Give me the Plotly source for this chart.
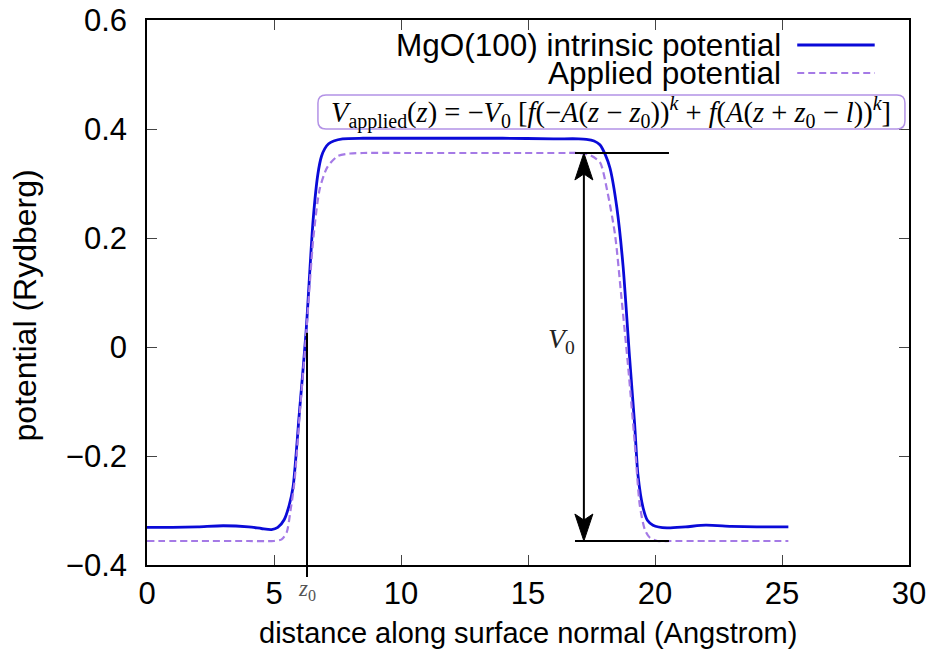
import plotly.graph_objects as go

# ---- data ----
z_mgo = [0.0, 1.0, 2.0, 3.0, 4.0, 4.5, 4.9, 5.15, 5.4, 5.6, 5.75, 6.0, 6.26, 6.54, 6.73, 6.87, 7.0, 7.15,
         7.35, 7.7, 8.5, 10.0, 12.0, 14.0, 16.0, 17.0, 17.3, 17.6, 17.83, 18.05, 18.23, 18.5, 18.74, 19.0,
         19.2, 19.33, 19.53, 19.7, 19.92, 20.47, 21.2, 22.0, 23.0, 24.0, 25.25]
v_mgo = [-0.331, -0.331, -0.330, -0.328, -0.330, -0.333, -0.335, -0.331, -0.317, -0.290, -0.257, -0.120,
         0.026, 0.233, 0.318, 0.350, 0.364, 0.373, 0.378, 0.382, 0.383, 0.383, 0.383, 0.383, 0.382, 0.382,
         0.381, 0.378, 0.371, 0.352, 0.328, 0.255, 0.150, -0.020, -0.143, -0.235, -0.295, -0.318, -0.327,
         -0.332, -0.330, -0.327, -0.329, -0.330, -0.330]

z_app = [0.0, 2.0, 4.0, 5.0, 5.3, 5.5, 5.65, 5.8, 6.0, 6.26, 6.55, 6.8, 7.1, 7.5, 8.0, 8.5, 10.0, 14.0,
         16.5, 17.0, 17.4, 17.83, 18.13, 18.43, 18.66, 18.95, 19.2, 19.4, 19.6, 19.8, 20.1, 20.6, 22.0, 25.25]
v_app = [-0.356, -0.356, -0.356, -0.356, -0.353, -0.340, -0.300, -0.250, -0.130, 0.020, 0.200, 0.290,
         0.330, 0.350, 0.355, 0.356, 0.356, 0.356, 0.356, 0.356, 0.353, 0.339, 0.284, 0.205, 0.100, -0.040,
         -0.175, -0.290, -0.335, -0.350, -0.356, -0.356, -0.356, -0.356]

x_ticks = [0, 5, 10, 15, 20, 25, 30]
y_ticks = [-0.4, -0.2, 0, 0.2, 0.4, 0.6]
y_ticklabels = ["\u22120.4", "\u22120.2", "0", "0.2", "0.4", "0.6"]

series_names = ["MgO(100) intrinsic potential", "Applied potential"]

# annotation values
V0 = 0.356
z0 = 6.3
z0_cross = 0.026
arrow_x = 17.2
bar_x0, bar_x1 = 16.85, 20.55

BLUE = "#0a0ad8"
PURPLE = "#a57ae6"
SANS = "Liberation Sans, Arial, sans-serif"
SERIF = "Liberation Serif, Times New Roman, serif"

fig = go.Figure()
fig.add_trace(go.Scatter(x=z_mgo, y=v_mgo, mode="lines", name=series_names[0],
                         line=dict(color=BLUE, width=2.8, shape="spline", smoothing=0.7),
                         showlegend=False))
fig.add_trace(go.Scatter(x=z_app, y=v_app, mode="lines", name=series_names[1],
                         line=dict(color=PURPLE, width=2.2, dash="7px,4px", shape="spline", smoothing=0.7),
                         showlegend=False))

# pixel scale helpers (plot area 762 x 545 px for 30 x 1.0 units)
px_x = 30.0 / 762.0
px_y = 1.0 / 545.0

shapes = []
# legend samples
leg_x0, leg_x1 = 25.6, 28.65
leg_y1 = 0.6 - 25 * px_y
leg_y2 = 0.6 - 53 * px_y
shapes.append(dict(type="line", xref="x", yref="y", x0=leg_x0, x1=leg_x1, y0=leg_y1, y1=leg_y1,
                   line=dict(color=BLUE, width=2.8)))
shapes.append(dict(type="line", xref="x", yref="y", x0=leg_x0, x1=leg_x1, y0=leg_y2, y1=leg_y2,
                   line=dict(color=PURPLE, width=2.2, dash="7px,4px")))

# formula box (rounded)
bx0, bx1 = 6.73, 29.84
by0 = 0.6 - (129 - 20) * px_y
by1 = 0.6 - (95 - 20) * px_y
rx, ry = 8 * px_x, 8 * px_y
path = (f"M{bx0+rx},{by0} L{bx1-rx},{by0} Q{bx1},{by0} {bx1},{by0+ry} L{bx1},{by1-ry} "
        f"Q{bx1},{by1} {bx1-rx},{by1} L{bx0+rx},{by1} Q{bx0},{by1} {bx0},{by1-ry} "
        f"L{bx0},{by0+ry} Q{bx0},{by0} {bx0+rx},{by0} Z")
shapes.append(dict(type="path", xref="x", yref="y", path=path, fillcolor="white",
                   line=dict(color="#b392e6", width=1.5), layer="above"))

# V0 horizontal bars
for yy in (V0, -V0):
    shapes.append(dict(type="line", xref="x", yref="y", x0=bar_x0, x1=bar_x1, y0=yy, y1=yy,
                       line=dict(color="black", width=2)))

# double arrow
head_len, head_notch, head_half = 27 * px_y, 21 * px_y, 9 * px_x
shapes.append(dict(type="line", xref="x", yref="y", x0=arrow_x, x1=arrow_x,
                   y0=-V0 + head_notch, y1=V0 - head_notch, line=dict(color="black", width=2)))
top = (f"M{arrow_x},{V0} L{arrow_x+head_half},{V0-head_len} L{arrow_x},{V0-head_notch} "
       f"L{arrow_x-head_half},{V0-head_len} Z")
bot = (f"M{arrow_x},{-V0} L{arrow_x+head_half},{-V0+head_len} L{arrow_x},{-V0+head_notch} "
       f"L{arrow_x-head_half},{-V0+head_len} Z")
for p in (top, bot):
    shapes.append(dict(type="path", xref="x", yref="y", path=p, fillcolor="black",
                       line=dict(color="black", width=1)))

# z0 vertical line (extends just below the axis)
shapes.append(dict(type="line", xref="x", yref="paper", x0=z0, x1=z0,
                   y0=-12 / 545.0, y1=(z0_cross + 0.4) / 1.0,
                   line=dict(color="black", width=2)))

annotations = [
    dict(text=series_names[0], x=25.05, y=leg_y1, xref="x", yref="y", xanchor="right",
         yanchor="middle", showarrow=False, font=dict(family=SANS, size=31.5, color="black")),
    dict(text=series_names[1], x=25.05, y=leg_y2, xref="x", yref="y", xanchor="right",
         yanchor="middle", showarrow=False, font=dict(family=SANS, size=31.5, color="black")),
    dict(text=("<i>V</i><sub>applied</sub>(<i>z</i>) = \u2212<i>V</i><sub>0</sub> "
               "[<i>f</i>(\u2212<i>A</i>(<i>z</i> \u2212 <i>z</i><sub>0</sub>))<sup><i>k</i></sup> + "
               "<i>f</i>(<i>A</i>(<i>z</i> + <i>z</i><sub>0</sub> \u2212 <i>l</i>))<sup><i>k</i></sup>]"),
         x=(bx0 + bx1) / 2, y=(by0 + by1) / 2, xref="x", yref="y", xanchor="center",
         yanchor="middle", showarrow=False, font=dict(family=SERIF, size=28.5, color="black")),
    dict(text="<i>V</i><sub>0</sub>", x=16.3, y=0.012, xref="x", yref="y", xanchor="center",
         yanchor="middle", showarrow=False, font=dict(family=SERIF, size=28, color="#222")),
    dict(text="<i>z</i><sub>0</sub>", x=z0, y=-25 / 545.0, xref="x", yref="paper",
         xanchor="center", yanchor="middle", showarrow=False,
         font=dict(family=SERIF, size=23, color="#555")),
    dict(text="distance along surface normal (Angstrom)", x=0.5, y=-68 / 545.0, xref="paper",
         yref="paper", xanchor="center", yanchor="middle", showarrow=False,
         font=dict(family=SANS, size=29, color="black")),
    dict(text="potential (Rydberg)", x=-117 / 762.0 - 0.006, y=0.477, xref="paper", yref="paper",
         xanchor="center", yanchor="middle", textangle=-90, showarrow=False,
         font=dict(family=SANS, size=32, color="black")),
]

fig.update_layout(
    width=932, height=657,
    margin=dict(l=147, r=23, t=20, b=92),
    paper_bgcolor="white", plot_bgcolor="white",
    shapes=shapes, annotations=annotations,
    xaxis=dict(range=[0, 30], tickvals=x_ticks, ticks="inside", ticklen=10, tickwidth=1.2,
               showline=True, linecolor="black", linewidth=1.5, mirror="ticks", showgrid=False,
               zeroline=False, automargin=False,
               tickfont=dict(family=SANS, size=31, color="black")),
    yaxis=dict(range=[-0.4, 0.6], tickvals=y_ticks, ticktext=y_ticklabels, ticks="inside",
               ticklen=10, tickwidth=1.2, showline=True, linecolor="black", linewidth=1.5,
               mirror="ticks", showgrid=False, zeroline=False, automargin=False,
               ticklabelstandoff=12,
               tickfont=dict(family=SANS, size=31, color="black")),
)

fig.write_html("out.html")
